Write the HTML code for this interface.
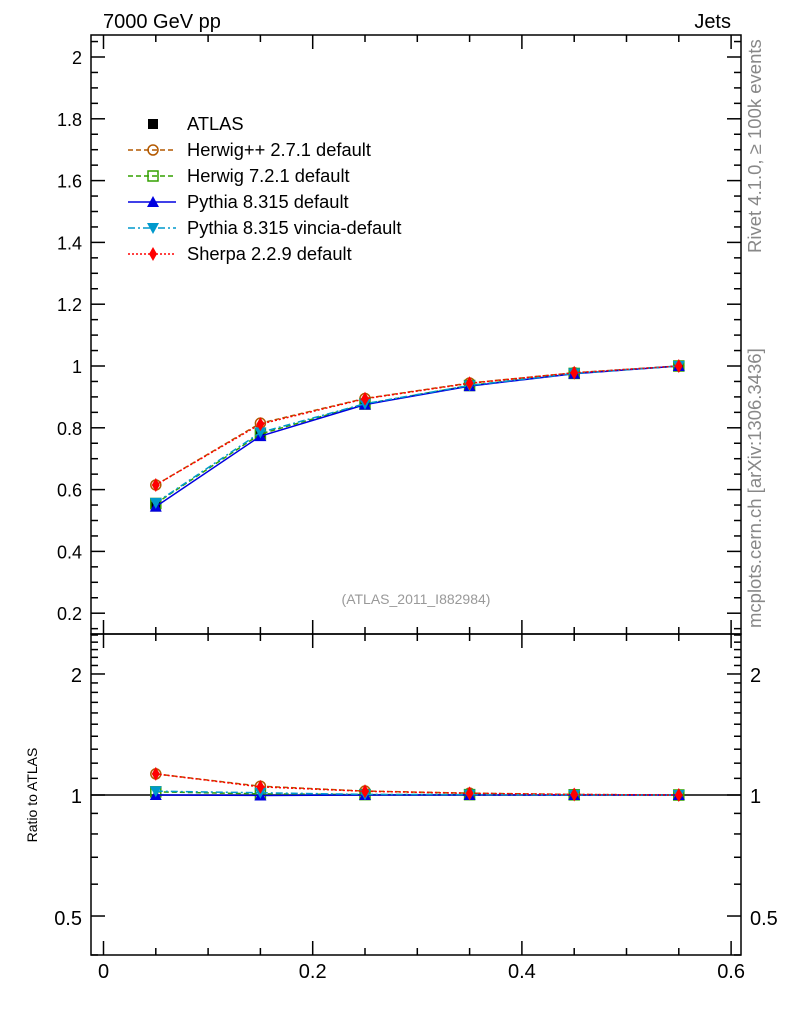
<!DOCTYPE html>
<html><head><meta charset="utf-8"><style>
body{margin:0;background:#fff}
svg{display:block;font-family:"Liberation Sans",sans-serif}
</style></head><body>
<svg id="s" width="786" height="1024" xmlns="http://www.w3.org/2000/svg">
<rect width="786" height="1024" fill="#fff"/>
<text x="103" y="28" font-size="20">7000 GeV pp</text>
<text x="731" y="28" font-size="20" text-anchor="end">Jets</text>
<text transform="translate(761,253) rotate(-90)" font-size="18.5" fill="#888">Rivet 4.1.0, ≥ 100k events</text>
<text transform="translate(761,628) rotate(-90)" font-size="18.5" fill="#888">mcplots.cern.ch [arXiv:1306.3436]</text>
<text x="416" y="604" font-size="14" fill="#999" text-anchor="middle">(ATLAS_2011_I882984)</text>
<text transform="translate(37,795) rotate(-90)" font-size="14" text-anchor="middle">Ratio to ATLAS</text>
<g id="g"></g>
</svg>
<script>
var g=document.getElementById('g'),h='';
var L=91,R=741,T=35,M=634,B=955;
function X(v){return 103.5+v*1046}
function Y(v){return 366-(v-1)*309}
function RY(r){return 795-402*Math.log10(r)}
function ln(a,b,c,d,w,col){h+=`<line x1="${a}" y1="${b}" x2="${c}" y2="${d}" stroke="${col||'#000'}" stroke-width="${w||1.5}"/>`}
function tx(x,y,s,a,fs){h+=`<text x="${x}" y="${y}" font-size="${fs||18}" text-anchor="${a||'middle'}">${s}</text>`}
h+=`<rect x="${L}" y="${T}" width="${R-L}" height="${M-T}" fill="none" stroke="#000" stroke-width="1.5"/>`;
h+=`<rect x="${L}" y="${M}" width="${R-L}" height="${B-M}" fill="none" stroke="#000" stroke-width="1.5"/>`;
for(var i=3;i<=41;i++){var v=i*0.05,y=Y(v);if(y<T||y>M)continue;var maj=(i%4==0);var l=maj?14:7;ln(L,y,L+l,y);ln(R,y,R-l,y);
 if(maj){tx(82,y+7,(Math.round(v*10)/10).toString(),'end')}}
for(var i=0;i<=12;i++){var v=i*0.05,x=X(v);var maj=(i%4==0);var l=maj?14:7;
 [T,M].forEach(function(y0){ln(x,y0,x,y0+l)});[M,B].forEach(function(y0){ln(x,y0,x,y0-l)});
 if(maj)tx(x,978,v==0?'0':v.toFixed(1),'middle',20);}
var rt=[0.4,0.5,0.6,0.7,0.8,0.9,1,1.1,1.2,1.3,1.4,1.5,1.6,1.7,1.8,1.9,2,2.1,2.2,2.3,2.4,2.5];
rt.forEach(function(r){var y=RY(r);if(y<M||y>B)return;var maj=(Math.abs(r-0.5)<1e-6||Math.abs(r-1)<1e-6||Math.abs(r-2)<1e-6);var l=maj?14:7;ln(L,y,L+l,y);ln(R,y,R-l,y);});
tx(82,925,'0.5','end',20);tx(82,803,'1','end',20);tx(82,682,'2','end',20);
tx(750,925,'0.5','start',20);tx(750,803,'1','start',20);tx(750,682,'2','start',20);
ln(L,RY(1),R,RY(1),1.5);
var xs=[0.05,0.15,0.25,0.35,0.45,0.55];
var D={
 at:[0.545,0.775,0.875,0.935,0.975,1.0],
 hpp:[0.615,0.815,0.895,0.945,0.978,1.0],
 h7:[0.555,0.78,0.877,0.937,0.976,1.0],
 py:[0.545,0.773,0.875,0.935,0.975,1.0],
 vi:[0.557,0.785,0.878,0.937,0.976,1.0],
 sh:[0.615,0.812,0.894,0.944,0.978,1.0]};
var S=[
 ['hpp','#b35900','5,3','c'],
 ['h7','#33a000','5,3','s'],
 ['py','#0000e0','','t'],
 ['vi','#0099cc','7,3,2,3','v'],
 ['sh','#ff0000','2,2','d']];
function mk(t,x,y,c){
 if(t=='c')h+=`<circle cx="${x}" cy="${y}" r="5" fill="none" stroke="${c}" stroke-width="1.5"/>`;
 if(t=='s')h+=`<rect x="${x-5}" y="${y-5}" width="10" height="10" fill="none" stroke="${c}" stroke-width="1.5"/>`;
 if(t=='t')h+=`<polygon points="${x},${y-6} ${x-6},${y+5} ${x+6},${y+5}" fill="${c}"/>`;
 if(t=='v')h+=`<polygon points="${x},${y+6} ${x-6},${y-5} ${x+6},${y-5}" fill="${c}"/>`;
 if(t=='d')h+=`<polygon points="${x},${y-7} ${x-4},${y} ${x},${y+7} ${x+4},${y}" fill="${c}"/>`;
 if(t=='q')h+=`<rect x="${x-5}" y="${y-5}" width="10" height="10" fill="#000"/>`;
}
function series(fy,vals,c,da,t){var p=xs.map(function(x,i){return X(x)+','+fy(vals[i])}).join(' ');
 h+=`<polyline points="${p}" fill="none" stroke="${c}" stroke-width="1.5" ${da?'stroke-dasharray="'+da+'"':''}/>`;
 xs.forEach(function(x,i){mk(t,X(x),fy(vals[i]),c)});}
xs.forEach(function(x,i){mk('q',X(x),Y(D.at[i]))});
S.forEach(function(s){series(Y,D[s[0]],s[1],s[2],s[3]);
 series(RY,D[s[0]].map(function(v,i){return v/D.at[i]}),s[1],s[2],s[3]);});
var ly=[124,150,176,202,228,254];
mk('q',153,ly[0]);tx(187,ly[0]+6,'ATLAS','start',18.3);
var names=['Herwig++ 2.7.1 default','Herwig 7.2.1 default','Pythia 8.315 default','Pythia 8.315 vincia-default','Sherpa 2.2.9 default'];
S.forEach(function(s,i){var y=ly[i+1];h+=`<line x1="128" y1="${y}" x2="176" y2="${y}" stroke="${s[1]}" stroke-width="1.5" ${s[2]?'stroke-dasharray="'+s[2]+'"':''}/>`;
 mk(s[3],153,y,s[1]);tx(187,y+6,names[i],'start',18.3);});
g.innerHTML=h;
</script>
</body></html>
